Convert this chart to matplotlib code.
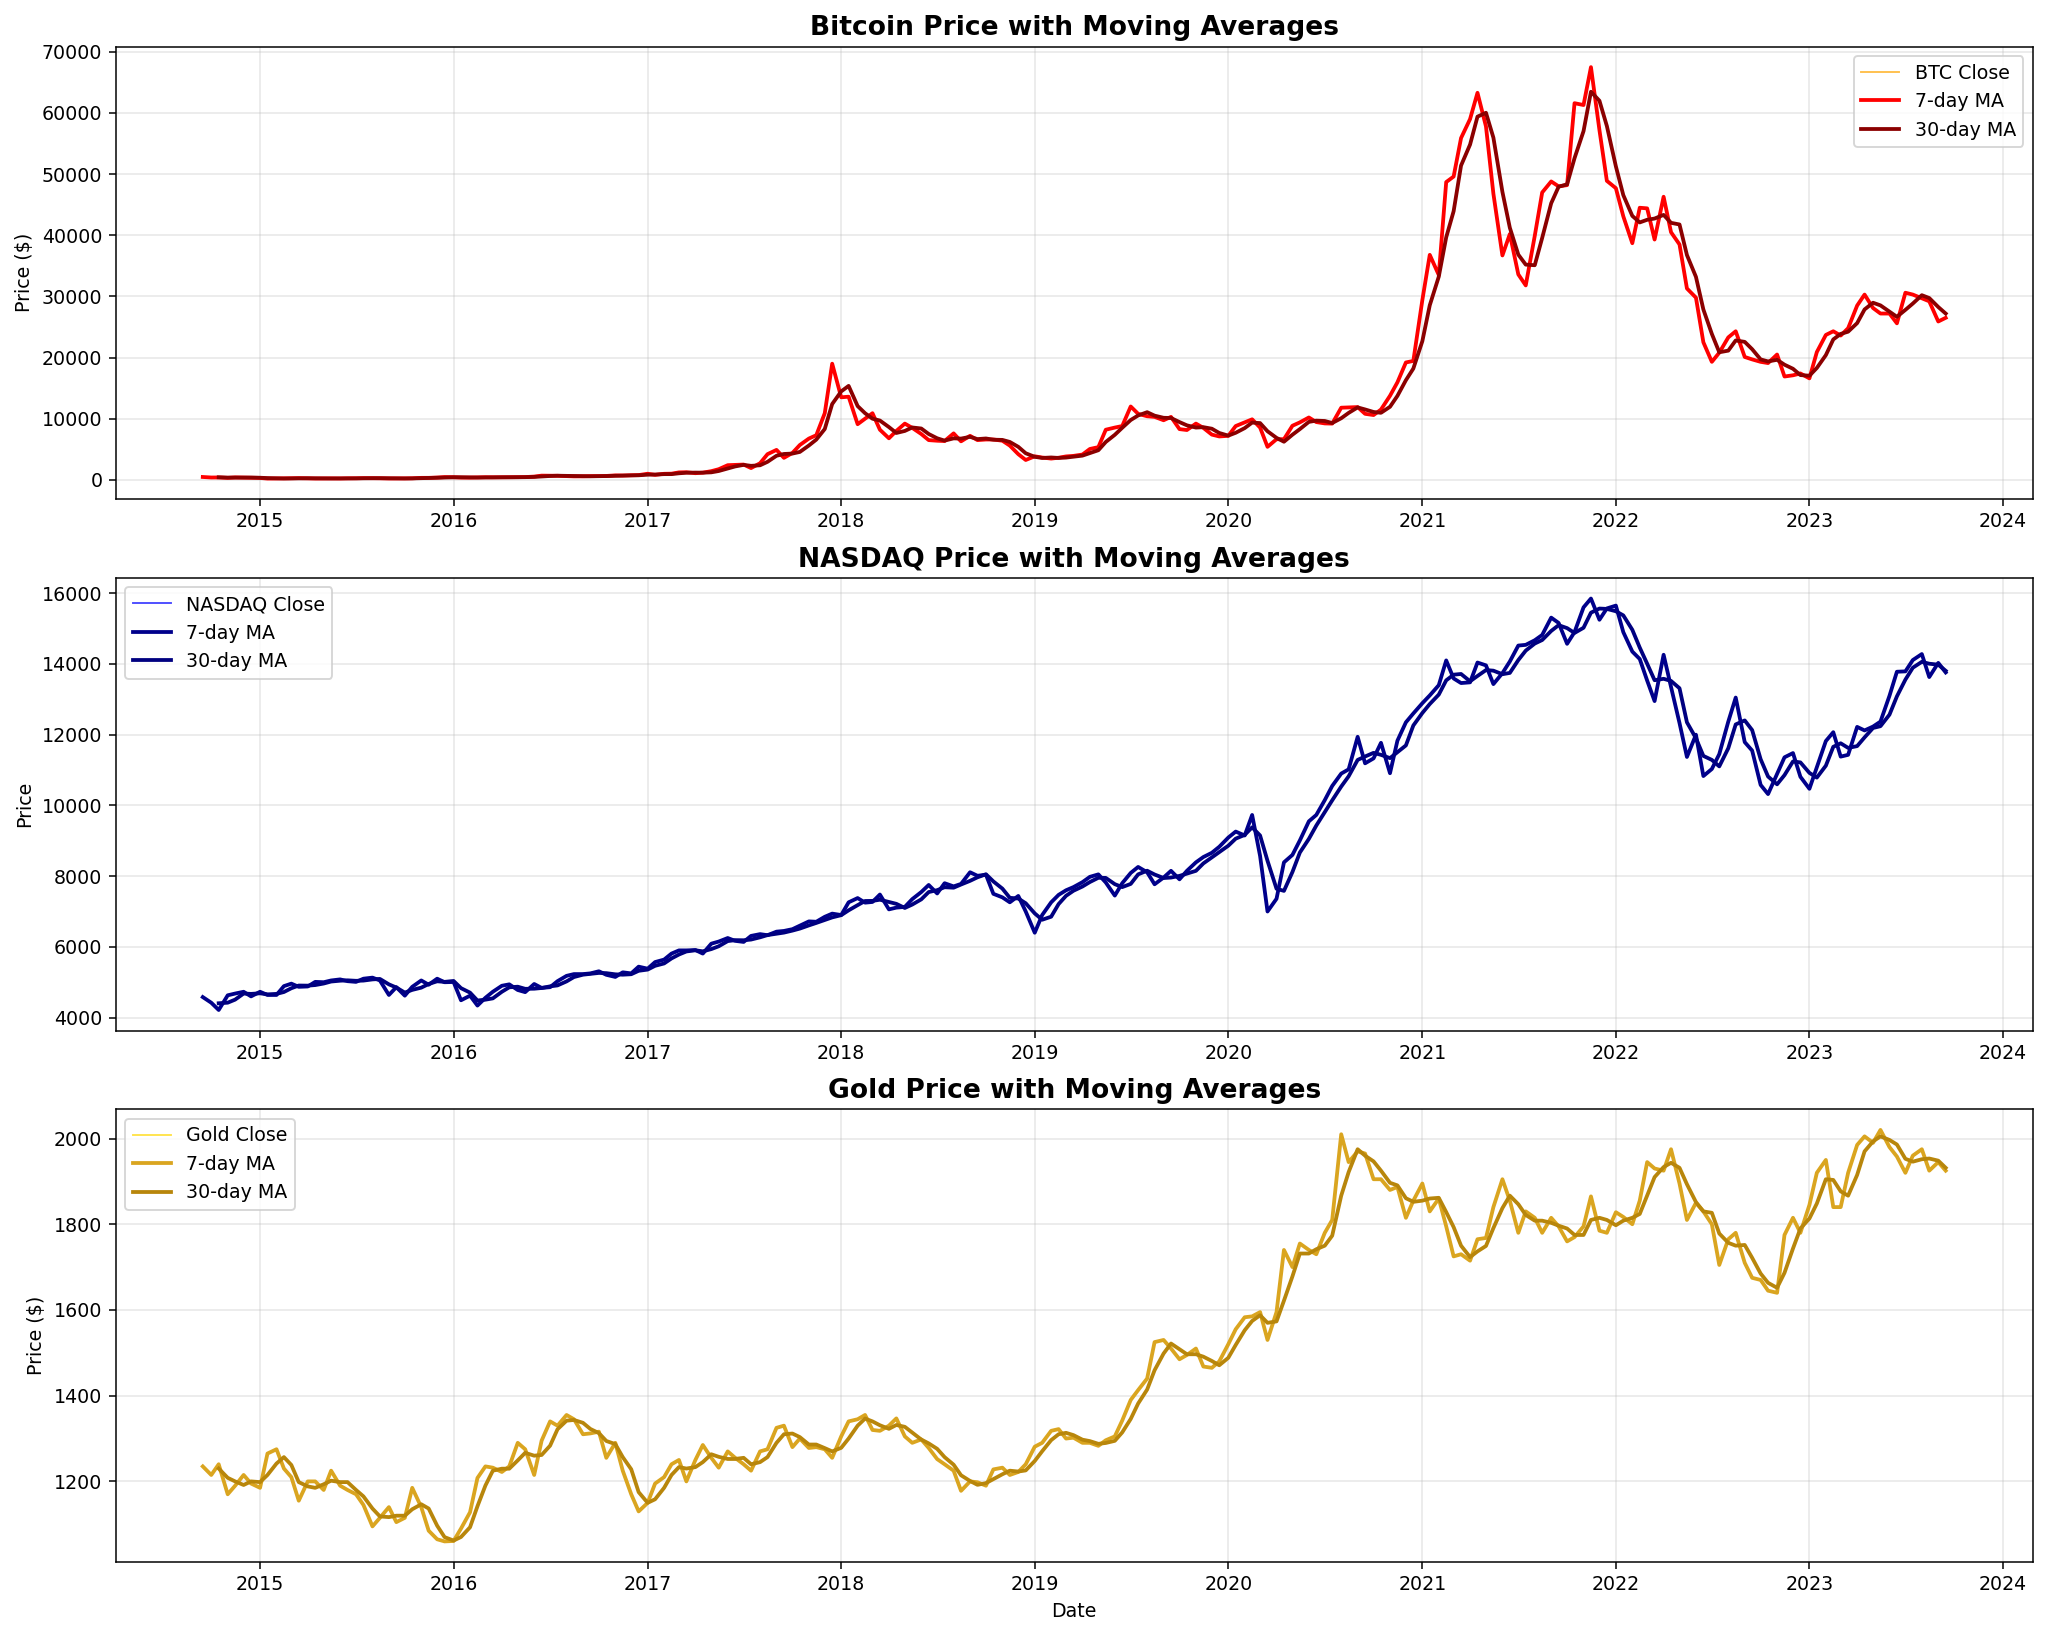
import matplotlib
matplotlib.use("Agg")
import matplotlib.pyplot as plt
import pandas as pd
import numpy as np

# Semi-monthly closes (1st / 15th), Sep 2014 .. Sep 2023
START = "2014-09-15"

btc_close = [
    470, 385, 395, 325, 400, 380, 345,  # 2014
    315, 210, 225, 235, 260, 285, 245, 220, 235, 237, 225, 250, 258, 285, 280, 260, 228, 230, 237, 255, 325, 330, 378, 455,  # 2015
    435, 375, 370, 400, 430, 415, 417, 430, 450, 455, 535, 690, 675, 665, 605, 570, 575, 608, 615, 640, 730, 710, 755, 780,  # 2016
    1000, 820, 990, 1010, 1220, 1250, 1090, 1180, 1420, 1740, 2400, 2450, 2500, 1930, 2720, 4200, 4900, 3600, 4400, 5700, 6750, 7300, 10900, 19000,  # 2017
    13500, 13600, 9100, 10000, 10900, 8200, 6800, 8000, 9200, 8500, 7500, 6500, 6400, 6350, 7600, 6300, 7200, 6500, 6600, 6600, 6400, 5600, 4200, 3250,  # 2018
    3850, 3650, 3480, 3620, 3830, 3920, 4140, 5050, 5350, 8200, 8550, 8800, 12000, 10800, 10400, 10300, 9750, 10300, 8300, 8150, 9200, 8500, 7400, 7100,  # 2019
    7200, 8800, 9400, 9900, 8550, 5400, 6650, 6650, 8850, 9400, 10200, 9450, 9230, 9200, 11800, 11850, 11900, 10800, 10600, 11500, 13750, 15950, 19200, 19450,  # 2020
    29400, 36800, 33500, 48700, 49600, 55900, 59000, 63300, 57800, 46800, 36700, 40200, 33600, 31800, 39900, 47000, 48800, 48000, 48200, 61600, 61300, 67500, 57200, 48900,  # 2021
    47700, 43100, 38700, 44500, 44400, 39300, 46300, 40500, 38500, 31300, 29800, 22500, 19300, 20800, 23300, 24300, 20100, 19700, 19300, 19100, 20500, 16900, 17100, 17400,  # 2022
    16600, 20900, 23700, 24300, 23600, 24800, 28500, 30300, 28100, 27200, 27200, 25600, 30600, 30300, 29700, 29200, 25900, 26500,  # 2023
]

nasdaq_close = [
    4580, 4420, 4215, 4630, 4680, 4730, 4600,  # 2014
    4730, 4640, 4640, 4890, 4960, 4870, 4880, 5010, 5000, 5050, 5080, 5030, 5010, 5100, 5130, 5050, 4640, 4860, 4620, 4870, 5050, 4930, 5100, 5000,  # 2015
    5007, 4490, 4620, 4340, 4560, 4730, 4900, 4940, 4780, 4720, 4950, 4840, 4860, 5030, 5180, 5230, 5230, 5250, 5310, 5210, 5150, 5280, 5250, 5440,  # 2016
    5383, 5570, 5640, 5810, 5900, 5900, 5910, 5810, 6090, 6150, 6250, 6170, 6140, 6310, 6360, 6330, 6430, 6450, 6500, 6600, 6720, 6710, 6850, 6940,  # 2017
    6900, 7260, 7380, 7250, 7270, 7480, 7060, 7110, 7130, 7350, 7550, 7750, 7510, 7800, 7710, 7780, 8110, 8010, 8040, 7500, 7400, 7260, 7440, 7000,  # 2018
    6400, 6900, 7260, 7470, 7600, 7690, 7830, 7980, 8050, 7820, 7450, 7800, 8090, 8260, 8110, 7770, 7960, 8150, 7910, 8150, 8390, 8540, 8660, 8830,  # 2019
    9090, 9260, 9150, 9730, 8570, 7000, 7360, 8390, 8600, 9010, 9550, 9730, 10150, 10550, 10900, 11020, 11940, 11190, 11330, 11770, 10910, 11830, 12350, 12600,  # 2020
    12890, 13110, 13400, 14100, 13590, 13460, 13480, 14040, 13960, 13430, 13740, 14070, 14520, 14540, 14670, 14820, 15310, 15160, 14570, 14900, 15600, 15850, 15250, 15570,  # 2021
    15650, 14900, 14350, 14140, 13530, 12950, 14260, 13350, 12330, 11370, 12000, 10830, 11030, 11450, 12370, 13050, 11790, 11550, 10580, 10320, 10890, 11360, 11480, 10810,  # 2022
    10470, 11080, 11820, 12070, 11380, 11430, 12220, 12120, 12230, 12370, 13100, 13780, 13790, 14110, 14280, 13630, 14030, 13760,  # 2023
]

gold_close = [
    1235, 1215, 1240, 1170, 1190, 1215, 1195,  # 2014
    1185, 1265, 1275, 1230, 1210, 1155, 1200, 1200, 1180, 1225, 1190, 1180, 1170, 1145, 1095, 1115, 1140, 1105, 1115, 1185, 1140, 1085, 1065, 1060,  # 2015
    1061, 1090, 1128, 1208, 1235, 1232, 1222, 1235, 1290, 1275, 1215, 1295, 1340, 1330, 1355, 1345, 1310, 1312, 1316, 1255, 1290, 1225, 1170, 1130,  # 2016
    1150, 1195, 1210, 1240, 1250, 1200, 1250, 1285, 1255, 1232, 1270, 1255, 1240, 1225, 1270, 1275, 1325, 1330, 1280, 1300, 1278, 1280, 1275, 1255,  # 2017
    1305, 1340, 1345, 1355, 1320, 1318, 1330, 1347, 1305, 1290, 1298, 1278, 1252, 1240, 1225, 1178, 1200, 1198, 1190, 1228, 1232, 1215, 1222, 1240,  # 2018
    1281, 1290, 1318, 1322, 1300, 1302, 1290, 1290, 1283, 1296, 1305, 1342, 1390, 1413, 1440, 1525, 1530, 1510, 1485, 1495, 1510, 1468, 1465, 1480,  # 2019
    1520, 1555, 1583, 1585, 1595, 1530, 1595, 1740, 1700, 1755, 1740, 1730, 1780, 1810, 2010, 1945, 1970, 1965, 1905, 1905, 1880, 1887, 1815, 1855,  # 2020
    1895, 1830, 1860, 1795, 1725, 1730, 1715, 1765, 1768, 1840, 1905, 1855, 1780, 1830, 1815, 1780, 1815, 1795, 1760, 1770, 1795, 1865, 1785, 1780,  # 2021
    1828, 1817, 1800, 1855, 1945, 1930, 1925, 1975, 1895, 1810, 1850, 1830, 1800, 1705, 1765, 1780, 1710, 1675, 1670, 1645, 1640, 1775, 1815, 1780,  # 2022
    1845, 1920, 1950, 1840, 1840, 1920, 1985, 2005, 1990, 2020, 1980, 1958, 1920, 1960, 1975, 1925, 1945, 1925,  # 2023
]

assert len(btc_close) == len(nasdaq_close) == len(gold_close) == 217

dates = pd.date_range(START, periods=len(btc_close), freq="SMS")

panels = [
    dict(name="BTC", values=btc_close, title="Bitcoin Price with Moving Averages",
         ylabel="Price ($)", c_close="orange", c7="red", c30="darkred", loc="upper right"),
    dict(name="NASDAQ", values=nasdaq_close, title="NASDAQ Price with Moving Averages",
         ylabel="Price", c_close="blue", c7="darkblue", c30="navy", loc="upper left"),
    dict(name="Gold", values=gold_close, title="Gold Price with Moving Averages",
         ylabel="Price ($)", c_close="gold", c7="goldenrod", c30="darkgoldenrod", loc="upper left"),
]

DPI = 136.5
fig, axes = plt.subplots(3, 1, figsize=(2048 / DPI, 1636 / DPI), dpi=DPI)

for ax, p in zip(axes, panels):
    s = pd.Series(p["values"], index=dates, dtype=float)
    ma7 = s.rolling(1).mean()
    ma30 = s.rolling(3).mean()
    ax.plot(s.index, s.values, color=p["c_close"], alpha=0.7, linewidth=1, label=f"{p['name']} Close")
    ax.plot(ma7.index, ma7.values, color=p["c7"], linewidth=2, label="7-day MA")
    ax.plot(ma30.index, ma30.values, color=p["c30"], linewidth=2, label="30-day MA")
    ax.set_title(p["title"], fontsize=14, fontweight="bold")
    ax.set_ylabel(p["ylabel"])
    ax.legend(loc=p["loc"])
    ax.grid(True, alpha=0.3)

axes[-1].set_xlabel("Date")

fig.tight_layout(pad=0.8)
fig.savefig("out.png", dpi=DPI)
